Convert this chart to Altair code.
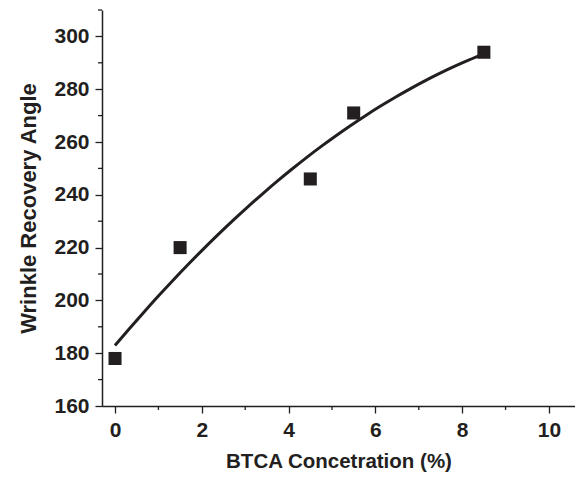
import altair as alt
import pandas as pd

conc = [0, 1.5, 4.5, 5.5, 8.5]
wra = [178, 220, 246, 271, 294]
x_major = [0, 2, 4, 6, 8, 10]
x_minor = [1, 3, 5, 7, 9]
y_major = [160, 180, 200, 220, 240, 260, 280, 300]
y_minor = [170, 190, 210, 230, 250, 270, 290, 310]

INK = "#231f20"
FONT = "Liberation Sans"
W, H = 473, 396

df = pd.DataFrame({"x": conc, "y": wra})
xs = alt.Scale(domain=[-0.3, 10.6], nice=False, zero=False)
ys = alt.Scale(domain=[160, 310], nice=False, zero=False)

xaxis = alt.Axis(values=x_major, title="BTCA Concetration (%)", grid=False,
                 tickSize=7, labelPadding=6, titlePadding=11, format="d",
                 titleFontSize=20.5)
yaxis = alt.Axis(values=y_major, title="Wrinkle Recovery Angle", grid=False,
                 tickSize=7, labelPadding=6, titlePadding=13, format="d",
                 titleFontSize=22)

base = alt.Chart(df)

fit = base.transform_regression("x", "y", method="poly", order=2, extent=[0, 8.5]).mark_line(
    color=INK, strokeWidth=3, interpolate="monotone"
).encode(x=alt.X("x:Q", scale=xs, axis=xaxis), y=alt.Y("y:Q", scale=ys, axis=yaxis))

pts = base.mark_square(size=170, color=INK, opacity=1).encode(
    x=alt.X("x:Q", scale=xs), y=alt.Y("y:Q", scale=ys)
)

xm = alt.Chart(pd.DataFrame({"x": x_minor})).mark_rule(color=INK, strokeWidth=1.3).encode(
    x=alt.X("x:Q", scale=xs), y=alt.value(H), y2=alt.value(H + 4)
)
ym = alt.Chart(pd.DataFrame({"y": y_minor})).mark_rule(color=INK, strokeWidth=1.3).encode(
    y=alt.Y("y:Q", scale=ys), x=alt.value(0), x2=alt.value(-4)
)

chart = alt.layer(fit, pts, xm, ym).properties(
    width=W, height=H,
    autosize=alt.AutoSizeParams(type="none"),
    padding={"left": 94, "top": 2, "right": 0, "bottom": 66},
).configure_view(stroke=None).configure_axis(
    domainColor=INK, domainWidth=1.5, tickColor=INK, tickWidth=1.3,
    labelColor=INK, titleColor=INK, labelFont=FONT, titleFont=FONT,
    labelFontSize=21, labelFontWeight="bold", titleFontWeight="bold",
)

chart.save("out.html", embed_options={"renderer": "svg", "actions": False})
